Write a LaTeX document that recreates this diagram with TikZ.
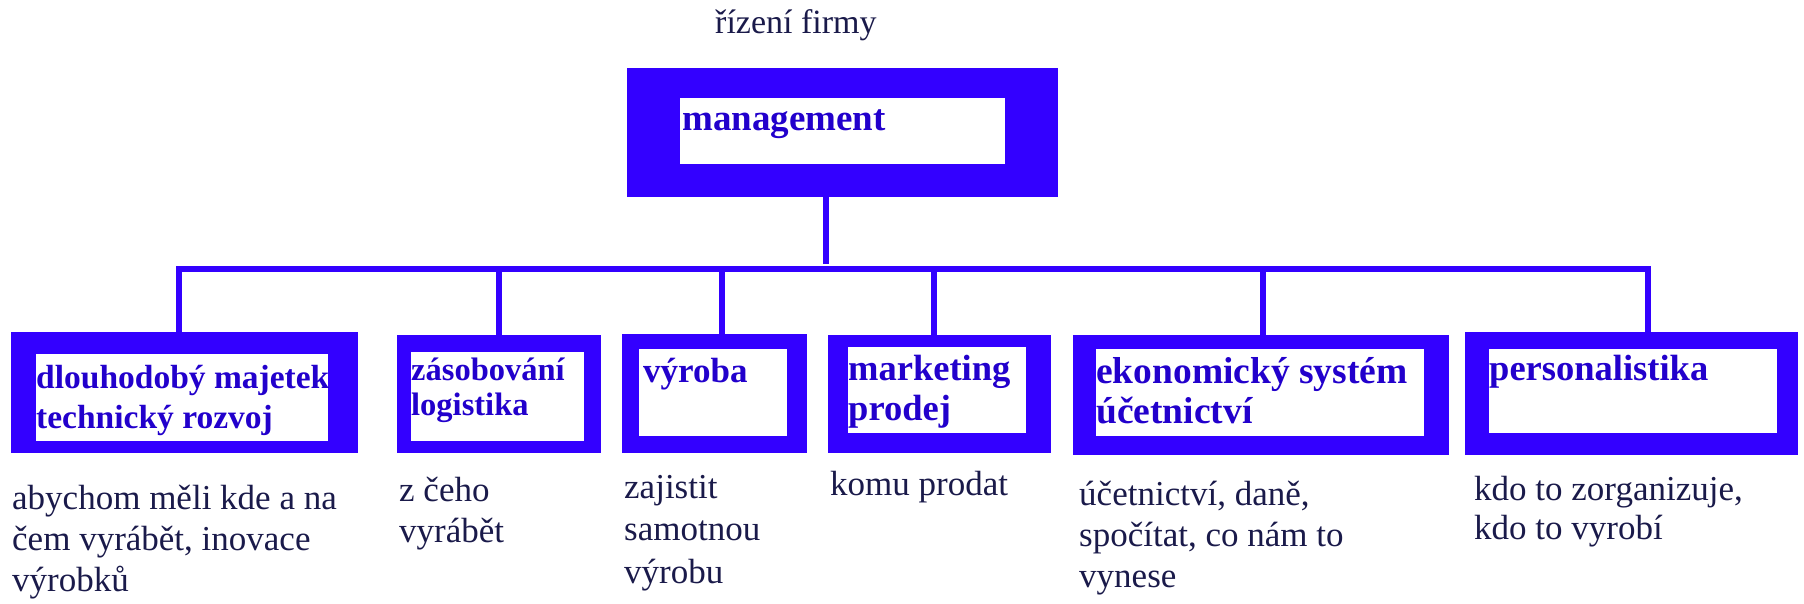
\documentclass[tikz,border=0pt]{standalone}
\usepackage{fontspec}
\setmainfont{Liberation Serif}
\definecolor{boxblue}{HTML}{3300FF}
\definecolor{labelblue}{HTML}{2200CC}
\definecolor{navy}{HTML}{1A1A4A}
\newcommand{\mkbox}[9]{%
  \node[outerbox, minimum width={#4-#2}, minimum height={#5-#3}] (#1) at ({(#2+#4)/2},{(#3+#5)/2}) {};
  \node[innerbox, minimum width={#8-#6}, minimum height={#9-#7}] (#1in) at ({(#6+#8)/2},{(#7+#9)/2}) {};
}
\begin{document}
\begin{tikzpicture}[x=1pt,y=-1pt,
  outerbox/.style={fill=boxblue, draw=none, inner sep=0pt, outer sep=0pt},
  innerbox/.style={fill=white, draw=none, inner sep=0pt, outer sep=0pt},
  lbl/.style={text=labelblue, font=\bfseries, inner sep=0pt, anchor=base west, align=left},
  note/.style={text=navy, inner sep=0pt, anchor=base west, align=left, font=\fontsize{35}{41}\selectfont},
  conn/.style={draw=boxblue, line width=6.5pt}
]
\useasboundingbox (0,0) rectangle (1804,603);

\node[text=navy, inner sep=0pt, anchor=base west, font=\fontsize{34}{40}\selectfont] (title) at (715,33) {řízení firmy};

\mkbox{mgmt}{627}{68}{1058}{197}{680}{98}{1005}{164}
\mkbox{d1}{11}{332}{358}{453}{36}{354}{328}{441}
\mkbox{d2}{397}{335}{601}{453}{411}{352}{584}{441}
\mkbox{d3}{622}{334}{807}{453}{639}{349}{787}{436}
\mkbox{d4}{828}{335}{1051}{453}{848}{347}{1026}{433}
\mkbox{d5}{1073}{335}{1449}{455}{1096}{349}{1424}{436}
\mkbox{d6}{1465}{332}{1798}{455}{1489}{349}{1777}{433}

% multi-line nodes: the base anchor is the baseline of the last line
\node[lbl, font=\bfseries\fontsize{37}{40}\selectfont] (lm) at (682,130) {management};
\node[lbl, font=\bfseries\fontsize{33.5}{40}\selectfont] (l1) at (36,428) {dlouhodobý majetek\\technický rozvoj};
\node[lbl, font=\bfseries\fontsize{32.5}{35}\selectfont] (l2) at (411,415) {zásobování\\logistika};
\node[lbl, font=\bfseries\fontsize{35}{40}\selectfont] (l3) at (643,382) {výroba};
\node[lbl, font=\bfseries\fontsize{36.5}{40}\selectfont] (l4) at (848,420) {marketing\\prodej};
\node[lbl, font=\bfseries\fontsize{37.5}{40}\selectfont] (l5) at (1096,423) {ekonomický systém\\účetnictví};
\node[lbl, font=\bfseries\fontsize{36.5}{40}\selectfont] (l6) at (1489,380) {personalistika};

\node[note] (n1) at (12,591) {abychom měli kde a na\\čem vyrábět, inovace\\výrobků};
\node[note] (n2) at (399,542) {z čeho\\vyrábět};
\node[note, font=\fontsize{35}{42.5}\selectfont] (n3) at (624,583) {zajistit\\samotnou\\výrobu};
\node[note] (n4) at (830,495) {komu prodat};
\node[note] (n5) at (1079,587) {účetnictví, daně,\\spočítat, co nám to\\vynese};
\node[note, font=\fontsize{35}{39}\selectfont] (n6) at (1474,539) {kdo to zorganizuje,\\kdo to vyrobí};

\coordinate (j1) at (179,269);
\coordinate (j2) at (499,269);
\coordinate (j3) at (722,269);
\coordinate (jm) at (826,269);
\coordinate (j4) at (934,269);
\coordinate (j5) at (1263,269);
\coordinate (j6) at (1648,269);

\draw[conn, line cap=rect] (j1) -- (j6);
\draw[conn] (jm |- mgmt.south) -- ([yshift=5pt]jm);
\draw[conn] (j1) -- (j1 |- d1.north);
\draw[conn] (j2) -- (j2 |- d2.north);
\draw[conn] (j3) -- (j3 |- d3.north);
\draw[conn] (j4) -- (j4 |- d4.north);
\draw[conn] (j5) -- (j5 |- d5.north);
\draw[conn] (j6) -- (j6 |- d6.north);
\end{tikzpicture}
\end{document}
